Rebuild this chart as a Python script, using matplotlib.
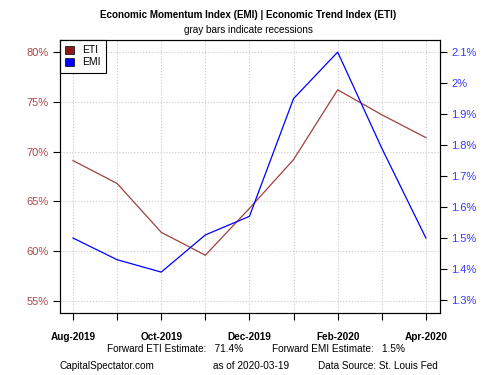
import matplotlib
matplotlib.use("Agg")
import matplotlib.pyplot as plt
from matplotlib.patches import Patch
from matplotlib.ticker import FuncFormatter

plt.rcParams['font.family'] = ['Liberation Sans', 'DejaVu Sans']

# monthly readings, Aug-2019 .. Apr-2020
months = ['Aug-2019', 'Sep-2019', 'Oct-2019', 'Nov-2019', 'Dec-2019',
          'Jan-2020', 'Feb-2020', 'Mar-2020', 'Apr-2020']
eti = [69.1, 66.8, 61.9, 59.6, 64.3, 69.2, 76.2, 73.7, 71.4]
emi = [1.50, 1.43, 1.39, 1.51, 1.57, 1.95, 2.10, 1.79, 1.50]
left_ticks = [55, 60, 65, 70, 75, 80]
right_ticks = [1.3, 1.4, 1.5, 1.6, 1.7, 1.8, 1.9, 2.0, 2.1]
eti_forward = '71.4%'
emi_forward = '1.5%'
as_of = '2020-03-19'

eti_col = '#8B1A1A'
emi_col = '#0000FF'
x = list(range(len(months)))

fig = plt.figure(figsize=(5, 3.75), dpi=100)
ax = fig.add_axes([0.12, 0.1653, 0.76, 0.728])
ax2 = ax.twinx()

ax.plot(x, eti, color='#A04040', lw=0.9)
ax2.plot(x, emi, color=emi_col, lw=0.9)

ax.set_xlim(-0.295, 8.32)
ax.set_ylim(53.8, 81.2)
ax2.set_ylim(1.258, 2.139)

ax.set_xticks(x)
ax.set_xticklabels([m if i % 2 == 0 else '' for i, m in enumerate(months)],
                   fontsize=7.2, fontweight='bold')
ax.set_yticks(left_ticks)
ax.yaxis.set_major_formatter(FuncFormatter(lambda v, p: f'{v:g}%'))
ax2.set_yticks(right_ticks)
ax2.yaxis.set_major_formatter(FuncFormatter(lambda v, p: f'{v:g}%'))

ax.tick_params(axis='y', colors='black', labelcolor='#B04848', labelsize=8, length=5, width=0.8, pad=3)
ax2.tick_params(axis='y', colors='black', labelcolor='#3838FF', labelsize=8, length=5, width=0.8, pad=3)
ax.tick_params(axis='x', length=5, width=0.8, pad=9)

ax.grid(True, color='#C8C8C8', linestyle=':', linewidth=0.8)
ax.set_axisbelow(True)
for a in (ax, ax2):
    for s in a.spines.values():
        s.set_linewidth(0.8)

leg = ax.legend(handles=[Patch(facecolor=eti_col, edgecolor='black', lw=0.5, label='ETI'),
                         Patch(facecolor=emi_col, edgecolor='black', lw=0.5, label='EMI')],
                loc='upper left', bbox_to_anchor=(0, 1), fontsize=7.5, fancybox=False,
                framealpha=1, edgecolor='black', handlelength=0.8, handleheight=0.8,
                handletextpad=0.8, borderpad=0.5, labelspacing=0.2, borderaxespad=0)
leg.get_frame().set_linewidth(0.8)

fig.text(0.496, 0.96, 'Economic Momentum Index (EMI) | Economic Trend Index (ETI)',
         ha='center', va='center', fontsize=7.1, fontweight='bold')
fig.text(0.496, 0.92, 'gray bars indicate recessions', ha='center', va='center', fontsize=7.2)

fig.text(0.214, 0.069, 'Forward ETI Estimate:   ' + eti_forward, ha='left', va='center', fontsize=7.2)
fig.text(0.544, 0.069, 'Forward EMI Estimate:   ' + emi_forward, ha='left', va='center', fontsize=7.2)
fig.text(0.12, 0.024, 'CapitalSpectator.com', ha='left', va='center', fontsize=7.2)
fig.text(0.426, 0.024, 'as of ' + as_of, ha='left', va='center', fontsize=7.2)
fig.text(0.635, 0.024, 'Data Source: St. Louis Fed', ha='left', va='center', fontsize=7.2)

fig.savefig('out.png', dpi=100)
